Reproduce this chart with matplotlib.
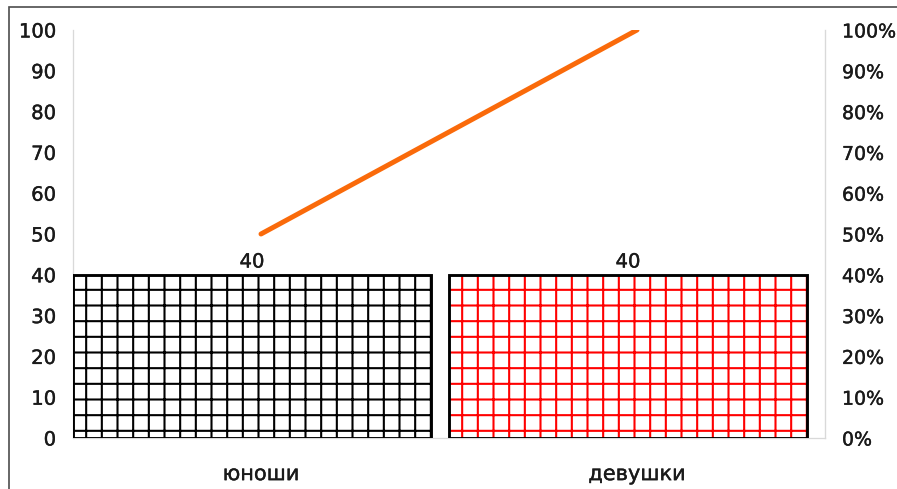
import matplotlib
matplotlib.use("Agg")
import matplotlib.pyplot as plt
import matplotlib.patheffects as pe
from matplotlib.patches import Rectangle
from matplotlib.ticker import FuncFormatter

categories = ["юноши", "девушки"]
bar_values = [40, 40]
line_values = [50, 100]          # percent, right axis
left_ticks = [0, 10, 20, 30, 40, 50, 60, 70, 80, 90, 100]
right_ticks = [0, 10, 20, 30, 40, 50, 60, 70, 80, 90, 100]
hatch_colors = ["black", "#ff0000"]

DPI = 94
plt.rcParams['font.family'] = ['DejaVu Sans']
plt.rcParams['hatch.linewidth'] = 1.6

TXT = "#1a1a1a"
heavy = [pe.withStroke(linewidth=0.3, foreground=TXT)]

fig = plt.figure(figsize=(898 / DPI, 489 / DPI), dpi=DPI)
ax = fig.add_axes([73 / 898, 1 - 438 / 489, (825 - 73) / 898, (438 - 30) / 489])

x = list(range(len(categories)))
offset = -0.024
width = 0.953
bx = [xi + offset for xi in x]

for xi, v, hc in zip(bx, bar_values, hatch_colors):
    ax.bar(xi, v, width=width, color="white", edgecolor=hc, hatch="+",
           linewidth=0, zorder=2)
    ax.bar(xi, v, width=width, fill=False, edgecolor="black",
           linewidth=2.2, zorder=3)
    ax.text(xi, v + 0.8, f"{v}", ha="center", va="bottom", fontsize=15,
            color=TXT, zorder=4, path_effects=heavy)

ax.set_xlim(-0.5, 1.5)
ax.set_ylim(0, 100)
ax.set_yticks(left_ticks)
ax.set_xticks(x)
ax.set_xticklabels(categories)
ax.tick_params(axis="y", length=0, pad=13, labelsize=15, labelcolor=TXT)
ax.tick_params(axis="x", length=0, pad=20, labelsize=16, labelcolor=TXT)
for lbl in ax.get_xticklabels() + ax.get_yticklabels():
    lbl.set_path_effects(heavy)
ax.spines["top"].set_visible(False)
for s in ["left", "right", "bottom"]:
    ax.spines[s].set_color("#d9d9d9")
    ax.spines[s].set_linewidth(1.0)
    ax.spines[s].set_zorder(1)

ax2 = ax.twinx()
ax2.set_ylim(0, 100)
ax2.set_yticks(right_ticks)
ax2.yaxis.set_major_formatter(FuncFormatter(lambda v, p: f"{int(v)}%"))
ax2.tick_params(axis="y", length=0, pad=13, labelsize=14.5, labelcolor=TXT)
for lbl in ax2.get_yticklabels():
    lbl.set_path_effects(heavy)
for s in ["top", "left", "bottom"]:
    ax2.spines[s].set_visible(False)
ax2.spines["right"].set_color("#d9d9d9")
ax2.plot(x, line_values, color="#fa6a0a", linewidth=3.8, solid_capstyle="round",
         zorder=5)

# outer frame (screenshot border)
fig.patches.append(Rectangle((9 / 898, -0.05), 1.2, 1 - 7 / 489 + 0.05,
                             transform=fig.transFigure, fill=False,
                             edgecolor="#505050", linewidth=1.3))

fig.savefig("out.png", dpi=DPI)
